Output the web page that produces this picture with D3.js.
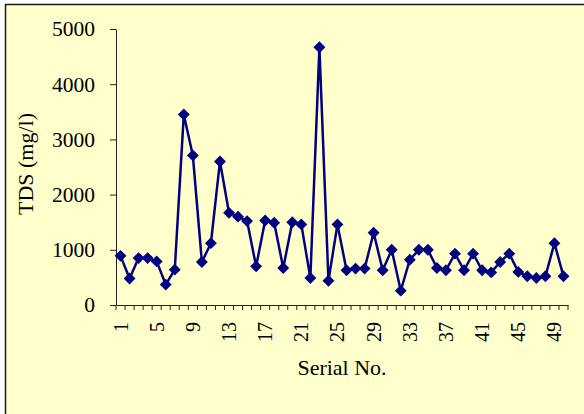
<!DOCTYPE html>
<html>
<head>
<meta charset="utf-8">
<script src="https://cdn.jsdelivr.net/npm/d3@7"></script>
<style>
  body { margin: 0; background: #fff; }
  svg { display: block; }
  text { font-family: "Liberation Serif", "Times New Roman", serif; fill: #000; }
</style>
</head>
<body>
<div id="chart"></div>
<script>
// Data
const serial = [1, 2, 3, 4, 5, 6, 7, 8, 9, 10,
    11, 12, 13, 14, 15, 16, 17, 18, 19, 20,
    21, 22, 23, 24, 25, 26, 27, 28, 29, 30,
    31, 32, 33, 34, 35, 36, 37, 38, 39, 40,
    41, 42, 43, 44, 45, 46, 47, 48, 49, 50];
const tds = [890, 480, 850, 850, 790, 370, 640, 3450, 2710, 780,
    1120, 2600, 1670, 1600, 1520, 700, 1530, 1490, 670, 1500,
    1460, 490, 4670, 440, 1460, 630, 660, 660, 1310, 630,
    1000, 260, 820, 1000, 1000, 670, 630, 930, 630, 930,
    630, 590, 780, 930, 600, 520, 490, 520, 1120, 520];
const xTickLabels = [1, 5, 9, 13, 17, 21, 25, 29, 33, 37, 41, 45, 49];
const yTicks = [0, 1000, 2000, 3000, 4000, 5000];

const W = 584, H = 414;
const plot = {left: 116, right: 568, top: 29, bottom: 305};

const svg = d3.select("#chart")
    .append("svg")
    .attr("width", W)
    .attr("height", H);

// Chart area background with frame
svg.append("rect")
    .attr("x", 5.5)
    .attr("y", 4.5)
    .attr("width", 620)
    .attr("height", 440)
    .attr("fill", "#ffffcc")
    .attr("stroke", "#1a1a1a")
    .attr("stroke-width", 1.5);

const x = d3.scaleBand()
    .domain(serial)
    .range([plot.left, plot.right])
    .padding(0);

const y = d3.scaleLinear()
    .domain([0, 5000])
    .range([plot.bottom, plot.top]);

// Y axis
const yAxis = svg.append("g")
    .attr("transform", `translate(${plot.left},0)`)
    .call(d3.axisLeft(y)
        .tickValues(yTicks)
        .tickFormat(d3.format("d"))
        .tickSize(6)
        .tickPadding(15)
        .tickSizeOuter(0));
yAxis.select(".domain").attr("stroke", "#222");
yAxis.selectAll(".tick line").attr("stroke", "#222");
yAxis.selectAll("text")
    .style("font-size", "21.5px")
    .attr("fill", "#000");

// X axis (labels only, ticks drawn at category boundaries)
const xAxis = svg.append("g")
    .attr("transform", `translate(0,${plot.bottom})`)
    .call(d3.axisBottom(x).tickValues(xTickLabels).tickSize(0).tickSizeOuter(0));
xAxis.select(".domain").attr("stroke", "#222");
xAxis.selectAll("text")
    .attr("transform", "rotate(-90)")
    .attr("x", -17)
    .attr("y", 0)
    .attr("dy", "0.35em")
    .style("text-anchor", "end")
    .style("font-size", "20px")
    .attr("fill", "#000");

const boundaries = serial.map(d => x(d)).concat([x.range()[1]]);
svg.append("g")
    .selectAll("line")
    .data(boundaries)
    .enter()
    .append("line")
    .attr("x1", d => d)
    .attr("x2", d => d)
    .attr("y1", plot.bottom)
    .attr("y2", plot.bottom + 5)
    .attr("stroke", "#222")
    .attr("stroke-width", 1);

// Axis titles
svg.append("text")
    .attr("x", (plot.left + plot.right) / 2)
    .attr("y", 375)
    .attr("text-anchor", "middle")
    .style("font-size", "22px")
    .text("Serial No.");

svg.append("text")
    .attr("transform", `translate(33,164) rotate(-90)`)
    .attr("text-anchor", "middle")
    .style("font-size", "22px")
    .text("TDS (mg/l)");

// Line
const points = serial.map((s, i) => ({serial: s, tds: tds[i]}));
const line = d3.line()
    .x(d => x(d.serial) + x.bandwidth() / 2)
    .y(d => y(d.tds));

svg.append("path")
    .datum(points)
    .attr("d", line)
    .attr("fill", "none")
    .attr("stroke", "#000080")
    .attr("stroke-width", 2.5)
    .attr("stroke-linejoin", "round");

// Diamond markers
svg.selectAll(".dot")
    .data(points)
    .enter()
    .append("path")
    .attr("class", "dot")
    .attr("d", d3.symbol().type(d3.symbolDiamond2).size(90))
    .attr("transform", d => `translate(${x(d.serial) + x.bandwidth() / 2},${y(d.tds)})`)
    .attr("fill", "#000080");
</script>
</body>
</html>
